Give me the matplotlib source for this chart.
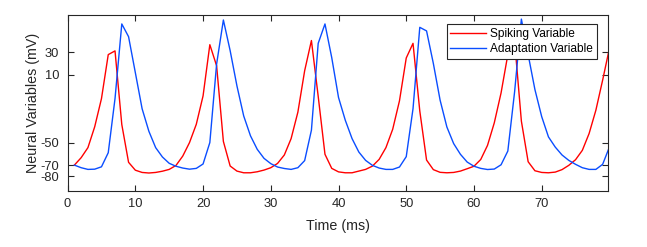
import numpy as np
import matplotlib
matplotlib.use("Agg")
import matplotlib.pyplot as plt

plt.rcParams['font.family'] = ['Liberation Sans', 'DejaVu Sans']
plt.rcParams['axes.unicode_minus'] = False

time_ms = list(range(1, 81))
spiking = [-70, -63.4, -54.5, -36, -11, 28, 31.3, -34, -67.5, -74.5,
           -76.5, -77, -76.5, -75.4, -73.8, -70.3, -62, -50, -33.8, -8.6,
           36.8, 18.1, -49, -70.8, -75.3, -76.8, -76.8, -75.9, -74.4, -72.3,
           -68.5, -61, -46.5, -23, 13.7, 40.5, -9, -60.4, -72.9, -76,
           -76.8, -76.8, -75.3, -73.8, -70.9, -64.9, -54.5, -38.2, -13, 25,
           38, -22, -65.5, -74, -76.4, -76.8, -76.5, -75.3, -73.2, -71,
           -65, -52.5, -32.5, -6, 28, 40, -31, -67, -75, -76.5,
           -76.8, -76.2, -74, -70.2, -65.2, -56.9, -42, -21.3, 5.4, 33.6]
adaptation = [-70, -72.3, -73.8, -73.6, -71.5, -59, -11, 55.2, 43.9, 12,
              -20, -40, -54.5, -62.8, -68.4, -71, -72.6, -73.6, -72.9, -69,
              -50, 19.6, 58.7, 31.5, 0.3, -26.4, -44, -56, -64, -68.7,
              -71.7, -73, -73.8, -72.3, -66, -39, 38, 55.2, 25.3, -10,
              -30.2, -46.5, -58.4, -65.8, -70.2, -72.6, -73.8, -73.8, -71.7, -62.5,
              -20, 52.2, 49, 20.2, -12.4, -36.2, -50.9, -60.4, -67.3, -71,
              -72.9, -73.9, -73.5, -69.7, -57.5, -5, 59.5, 28, -3, -27,
              -45, -54, -61, -65.8, -69.3, -72.3, -73.8, -73.8, -69.3, -54]
x_ticks = [0, 10, 20, 30, 40, 50, 60, 70]
y_ticks = [-80, -70, -50, 10, 30]
series_labels = ["Spiking Variable", "Adaptation Variable"]

fig = plt.figure(figsize=(6.47, 2.47), dpi=100)
ax = fig.add_axes([0.1045, 0.2247, 0.9393 - 0.1045, 0.9405 - 0.2247])

dark = '#262626'
ax.plot(time_ms, spiking, color='#ff0000', lw=1.0, label=series_labels[0])
ax.plot(time_ms, adaptation, color='#0a4dff', lw=1.0, label=series_labels[1])

ax.set_xlim(0, 79.75)
ax.set_ylim(-93.4, 63.4)
ax.set_xticks(x_ticks)
ax.set_yticks(y_ticks)
ax.tick_params(direction='in', length=4, width=0.8, top=True, right=True,
               labelsize=9.3, colors=dark)
ax.tick_params(axis='x', pad=5)
ax.tick_params(axis='y', pad=6)
for s in ax.spines.values():
    s.set_linewidth(0.8)
    s.set_color(dark)

ax.set_xlabel("Time (ms)", fontsize=10.3, color=dark, labelpad=6)
ax.set_ylabel("Neural Variables (mV)", fontsize=10.3, color=dark, labelpad=0.5)

leg = ax.legend(loc='upper right', bbox_to_anchor=(0.9796, 0.9457),
                borderaxespad=0, fontsize=8.6, fancybox=False, framealpha=1,
                edgecolor=dark, handlelength=3.0, handletextpad=0.35,
                labelspacing=0.28, borderpad=0.3)
leg.get_frame().set_linewidth(0.8)

fig.savefig("out.png", dpi=100)
